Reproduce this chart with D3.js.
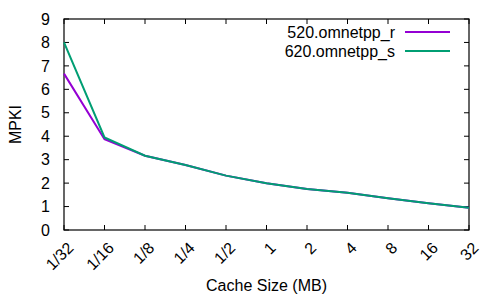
<!DOCTYPE html>
<html>
<head>
<meta charset="utf-8">
<script src="https://cdn.jsdelivr.net/npm/d3@7"></script>
<style>
  body { margin: 0; background: #fff; }
  text { font-family: "Liberation Sans", Arial, sans-serif; fill: #000; }
</style>
</head>
<body>
<div id="graph"></div>
<script>
// chart data
var sizes = ["1/32", "1/16", "1/8", "1/4", "1/2", "1", "2", "4", "8", "16", "32"]
var omnetpp520 = [6.67, 3.87, 3.17, 2.77, 2.32, 1.99, 1.75, 1.59, 1.35, 1.14, 0.95]
var omnetpp620 = [8.0, 3.95, 3.17, 2.77, 2.32, 1.99, 1.75, 1.59, 1.35, 1.14, 0.95]
var seriesNames = ["520.omnetpp_r", "620.omnetpp_s"]
var seriesColors = ["#9400d3", "#009e73"]
var yTicks = [0, 1, 2, 3, 4, 5, 6, 7, 8, 9]

var margin = {top: 19, right: 31, bottom: 70, left: 64},
    width = 500 - margin.left - margin.right,
    height = 300 - margin.top - margin.bottom

var svg = d3.select("#graph").append("svg")
    .attr("width", 500)
    .attr("height", 300)
  .append("g")
    .attr("transform", "translate(" + margin.left + "," + margin.top + ")")

var x = d3.scalePoint().domain(sizes).range([0, width])
var y = d3.scaleLinear().domain([0, 9]).range([height, 0])

// axes, gnuplot style: ticks inward and mirrored
var tick = 5
svg.append("g")
    .attr("transform", "translate(0," + height + ")")
    .call(d3.axisBottom(x).tickSize(0).tickPadding(0))
    .call(g => g.select(".domain").remove())
    .selectAll("text")
      .attr("font-size", 16)
      .attr("text-anchor", "end")
      .attr("dy", null)
      .attr("transform", "translate(2,11) rotate(-45)")
      .attr("dominant-baseline", "hanging")

svg.append("g")
    .call(d3.axisLeft(y).tickValues(yTicks).tickSize(0).tickPadding(14))
    .call(g => g.select(".domain").remove())
    .selectAll("text")
      .attr("font-size", 16)

var ticks = svg.append("g").attr("stroke", "#000").attr("stroke-width", 1)
sizes.forEach(function(s) {
    ticks.append("line").attr("x1", x(s)).attr("x2", x(s)).attr("y1", height).attr("y2", height - tick)
    ticks.append("line").attr("x1", x(s)).attr("x2", x(s)).attr("y1", 0).attr("y2", tick)
})
yTicks.forEach(function(v) {
    ticks.append("line").attr("x1", 0).attr("x2", tick).attr("y1", y(v)).attr("y2", y(v))
    ticks.append("line").attr("x1", width).attr("x2", width - tick).attr("y1", y(v)).attr("y2", y(v))
})

svg.append("rect")
    .attr("width", width).attr("height", height)
    .attr("fill", "none").attr("stroke", "#000").attr("stroke-width", 1.2)

// lines
var line = d3.line()
    .x(function(d, i) { return x(sizes[i]) })
    .y(function(d) { return y(d) })

;[omnetpp520, omnetpp620].forEach(function(vals, i) {
    svg.append("path")
        .datum(vals)
        .attr("fill", "none")
        .attr("stroke", seriesColors[i])
        .attr("stroke-width", 2)
        .attr("d", line)
})

// legend
seriesNames.forEach(function(name, i) {
    var ly = 13 + i * 19
    svg.append("text")
        .attr("x", 331).attr("y", ly)
        .attr("dy", "0.35em")
        .attr("text-anchor", "end")
        .attr("font-size", 16)
        .text(name)
    svg.append("line")
        .attr("x1", 341).attr("x2", 386)
        .attr("y1", ly).attr("y2", ly)
        .attr("stroke", seriesColors[i])
        .attr("stroke-width", 2)
})

// axis labels
svg.append("text")
    .attr("x", width / 2).attr("y", height + 61)
    .attr("text-anchor", "middle")
    .attr("font-size", 16)
    .text("Cache Size (MB)")

svg.append("text")
    .attr("transform", "translate(" + (-43) + "," + (height / 2) + ") rotate(-90)")
    .attr("text-anchor", "middle")
    .attr("font-size", 16)
    .text("MPKI")
</script>
</body>
</html>
